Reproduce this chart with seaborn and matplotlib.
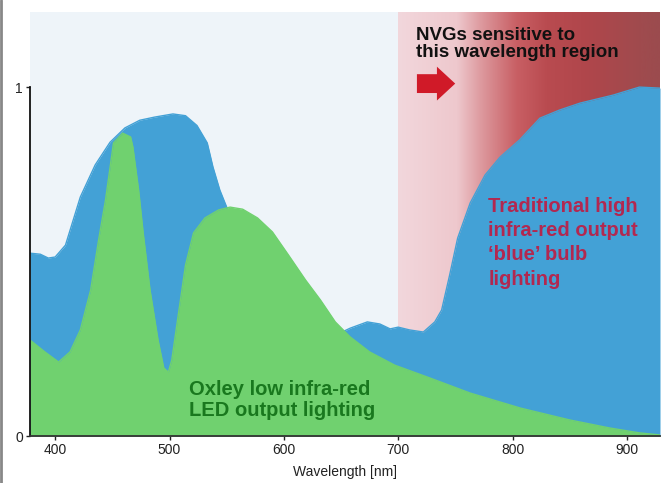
import numpy as np
import pandas as pd
import seaborn as sns
import matplotlib.pyplot as plt
from matplotlib.colors import LinearSegmentedColormap
from matplotlib.patches import FancyArrow
from matplotlib.lines import Line2D

# values (wavelength nm, relative output)
blue_nm = [378, 387, 394, 400, 409, 422, 435, 448, 461, 474, 487, 503, 514,
           524, 533, 538, 544, 550, 562, 579, 605, 632, 649, 658, 673, 684,
           693, 700, 710, 722, 732, 738, 745, 752, 763, 776, 789, 806, 824,
           841, 859, 888, 911, 929]
blue_val = [0.524, 0.521, 0.51, 0.513, 0.547, 0.685, 0.777, 0.842, 0.883,
            0.905, 0.914, 0.923, 0.918, 0.89, 0.84, 0.771, 0.705, 0.656,
            0.59, 0.50, 0.42, 0.347, 0.295, 0.309, 0.327, 0.321, 0.307,
            0.312, 0.304, 0.298, 0.327, 0.361, 0.461, 0.567, 0.668, 0.748,
            0.799, 0.848, 0.911, 0.934, 0.954, 0.977, 1.0, 0.997]

green_nm = [378, 391, 403, 413, 422, 431, 438, 444, 451, 459, 466, 468, 473,
            477, 483, 490, 495, 499, 502, 507, 514, 521, 531, 543, 553, 564,
            577, 590, 604, 619, 632, 645, 658, 675, 697, 728, 763, 807, 850,
            885, 911, 929]
green_val = [0.275, 0.241, 0.212, 0.241, 0.304, 0.418, 0.562, 0.676, 0.84,
             0.868, 0.857, 0.828, 0.705, 0.582, 0.418, 0.275, 0.195, 0.183,
             0.218, 0.332, 0.49, 0.582, 0.625, 0.648, 0.656, 0.65, 0.625,
             0.585, 0.519, 0.447, 0.39, 0.327, 0.284, 0.241, 0.203, 0.166,
             0.123, 0.08, 0.046, 0.023, 0.009, 0.003]

x_ticks = [400, 500, 600, 700, 800, 900]
nvg_start = 700

blue_df = pd.DataFrame({'nm': blue_nm, 'val': blue_val})
green_df = pd.DataFrame({'nm': green_nm, 'val': green_val})

sns.set_theme(style='ticks')
plt.rcParams['font.family'] = ['Liberation Sans', 'DejaVu Sans']

fig = plt.figure(figsize=(6.67, 4.83), dpi=100)
ax = fig.add_axes([0.045, 0.0973, 0.9445, 0.8777])
ax.set_facecolor('#eef4f9')
xmin, xmax, ymax = 378, 929, 1.215

# NVG sensitive region, gradient pink -> dark red
stops = [(0.0, (242, 215, 220)), (0.224, (238, 200, 205)),
         (0.324, (220, 150, 155)), (0.453, (200, 95, 100)),
         (0.568, (185, 75, 80)), (0.732, (175, 70, 75)),
         (0.923, (160, 75, 78)), (1.0, (155, 75, 78))]
cmap = LinearSegmentedColormap.from_list(
    'nvg', [(f, tuple(c / 255 for c in rgb)) for f, rgb in stops])
grad = np.linspace(0, 1, 256).reshape(1, -1)
ax.imshow(grad, cmap=cmap, aspect='auto', extent=[nvg_start, xmax, 0, ymax],
          zorder=0.5, interpolation='bicubic')

blue = '#43a1d6'
green = '#70d16f'
ax.fill_between(blue_df['nm'], blue_df['val'], color=blue, lw=0, zorder=1)
sns.lineplot(data=blue_df, x='nm', y='val', color=blue, lw=1, ax=ax, zorder=1.1)
ax.fill_between(green_df['nm'], green_df['val'], color=green, lw=0, zorder=2)
sns.lineplot(data=green_df, x='nm', y='val', color=green, lw=1, ax=ax, zorder=2.1)

ax.set_xlim(xmin, xmax)
ax.set_ylim(0, ymax)
ax.set_xticks(x_ticks)
ax.set_yticks([0, 1])
ax.set_yticklabels(['0', '1'])
ax.tick_params(axis='both', labelsize=10, colors='#222222', length=3, width=1,
               pad=2)
ax.set_xlabel('Wavelength [nm]', fontsize=10, color='#222222', labelpad=6)
ax.set_ylabel('')
sns.despine(ax=ax)
ax.spines['left'].set_bounds(0, 1)
ax.spines['left'].set_color('#111111')
ax.spines['bottom'].set_color('#333333')
ax.spines['left'].set_linewidth(1.3)
ax.spines['bottom'].set_linewidth(1.3)

ax.text(716, 1.172, 'NVGs sensitive to\nthis wavelength region', fontsize=13.5,
        fontweight='bold', color='#111111', va='top', ha='left', linespacing=1.0)
ax.add_patch(FancyArrow(716.4, 1.01, 17.5, 0, width=0.054, head_width=0.097,
                        head_length=16, length_includes_head=False,
                        color='#d01a28', lw=0, zorder=3))
ax.text(779, 0.685, "Traditional high\ninfra-red output\n\u2018blue\u2019 bulb\nlighting",
        fontsize=14.5, fontweight='bold', color='#b22850', va='top', ha='left',
        linespacing=1.35, zorder=4)
ax.text(517, 0.16, 'Oxley low infra-red\nLED output lighting', fontsize=14.5,
        fontweight='bold', color='#19781e', va='top', ha='left',
        linespacing=1.15, zorder=4)

fig.add_artist(Line2D([0.002, 0.002], [0, 1], color='#888888', lw=2,
                      transform=fig.transFigure))

fig.savefig('out.png', dpi=100)
